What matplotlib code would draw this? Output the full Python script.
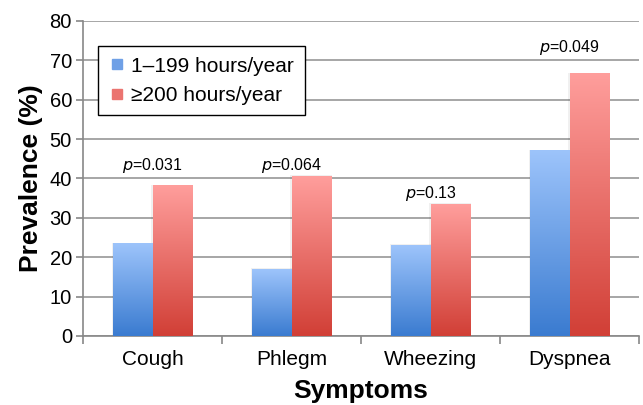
import numpy as np
import matplotlib
matplotlib.use("Agg")
import matplotlib.pyplot as plt
from matplotlib.colors import LinearSegmentedColormap
from matplotlib.lines import Line2D

plt.rcParams.update({
    "font.family": ["Liberation Sans", "DejaVu Sans"],
})

# ---------------------------
# Data
# ---------------------------
symptoms = ["Cough", "Phlegm", "Wheezing", "Dyspnea"]
low_hours = [23.4, 16.9, 23.0, 47.0]      # 1-199 hours/year
high_hours = [38.2, 40.6, 33.4, 66.6]     # >=200 hours/year
p_values = ["0.031", "0.064", "0.13", "0.049"]
p_label_y = [43.4, 43.4, 36.3, 73.3]
series_labels = ["1\u2013199 hours/year", "\u2265200 hours/year"]

BLUE_TOP, BLUE_BOT = "#9DC4FB", "#3A7BD0"
RED_TOP, RED_BOT = "#FF9E9C", "#D13F36"
GRID = "#A6A6A6"


def gradient_bars(ax, bars, top, bottom):
    cmap = LinearSegmentedColormap.from_list("g", [bottom, top])
    grad = np.linspace(0, 1, 256).reshape(-1, 1)
    for b in bars:
        x0, y0 = b.get_x(), b.get_y()
        w, h = b.get_width(), b.get_height()
        # soft shadow
        ax.add_patch(plt.Rectangle((x0 - 0.008, y0), w + 0.016, h + 0.25,
                                   facecolor="#000000", alpha=0.06,
                                   edgecolor="none", zorder=2))
        ax.imshow(grad, extent=[x0, x0 + w, y0, y0 + h], origin="lower",
                  cmap=cmap, aspect="auto", zorder=3, interpolation="bicubic")


fig = plt.figure(figsize=(6.43, 4.05), dpi=100)
ax = fig.add_axes([0.1291, 0.1704, 0.8647, 0.7778])

x = np.arange(len(symptoms))
width = 0.283

bars_low = ax.bar(x - width / 2, low_hours, width, facecolor="none",
                  edgecolor="none", zorder=3)
bars_high = ax.bar(x + width / 2, high_hours, width, facecolor="none",
                   edgecolor="none", zorder=3)
gradient_bars(ax, bars_low, BLUE_TOP, BLUE_BOT)
gradient_bars(ax, bars_high, RED_TOP, RED_BOT)

for xi, pv, py in zip(x, p_values, p_label_y):
    ax.text(xi, py, f"$p$=" + pv, ha="center", va="center", fontsize=11.5,
            zorder=5)

ax.set_xlim(-0.5, len(symptoms) - 0.5)
ax.set_ylim(0, 80)
ax.set_yticks(np.arange(0, 81, 10))
ax.yaxis.grid(True, color=GRID, linewidth=1.4, zorder=0)
ax.set_axisbelow(True)

# category labels centred, tick marks at boundaries
ax.set_xticks(x)
ax.set_xticklabels(symptoms, fontsize=15)
ax.tick_params(axis="x", length=0, pad=10)
ax.set_xticks(np.arange(-0.5, len(symptoms)), minor=True)
ax.tick_params(axis="x", which="minor", length=6, width=1.2, color="#888888")
ax.tick_params(axis="y", labelsize=14.5, length=5, width=1.2, color="#888888",
               pad=3)

for s in ["top", "right"]:
    ax.spines[s].set_visible(False)
for s in ["left", "bottom"]:
    ax.spines[s].set_color("#888888")
    ax.spines[s].set_linewidth(1.2)

ax.set_ylabel("Prevalence (%)", fontsize=19, fontweight="bold", labelpad=5)
ax.set_xlabel("Symptoms", fontsize=19, fontweight="bold", labelpad=7)

handles = [
    Line2D([], [], marker="s", linestyle="none", markersize=6.5,
           color="#6FA0E6"),
    Line2D([], [], marker="s", linestyle="none", markersize=6.5,
           color="#EB7470"),
]
leg = ax.legend(handles, series_labels, loc="upper left",
                bbox_to_anchor=(0.027, 0.92), borderaxespad=0,
                fontsize=15, fancybox=False, framealpha=1,
                handlelength=0.8, handletextpad=0.3, labelspacing=0.5,
                borderpad=0.5)
leg.get_frame().set_edgecolor("black")
leg.get_frame().set_linewidth(1.0)

fig.savefig("out.png", dpi=100)
